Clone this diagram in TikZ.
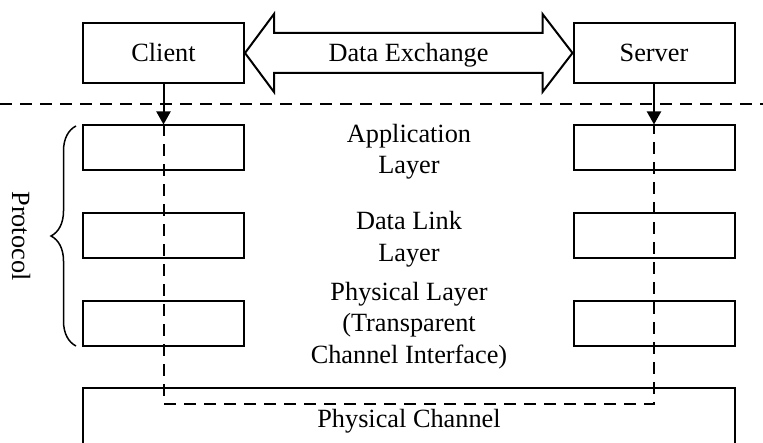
\documentclass[tikz,border=0pt]{standalone}
\usepackage{fontspec}
\setmainfont{Liberation Serif}
\usetikzlibrary{arrows.meta,decorations.pathreplacing,calc}
\begin{document}
\begin{tikzpicture}[x=1pt, y=-1pt, line width=2pt,
  font=\fontsize{26.3}{31.5}\selectfont,
  box/.style={draw, minimum width=161pt, minimum height=45pt, inner sep=0pt},
  endbox/.style={box, minimum height=60pt},
  lbl/.style={align=center, inner sep=0pt},
  dashline/.style={dash pattern=on 12pt off 8pt},
  flow/.style={-{Triangle[length=13pt,width=14pt]}}]

\clip (0,0) rectangle (763,443);

% end points of the exchange
\node[endbox] (client) at (163.5,53) {Client};
\node[endbox] (server) at (654,53) {Server};

% two-headed block arrow between client and server
\draw[line join=miter]
  (client.east) -- ++(29,-39) -- ++(0,19) -- ($(server.west)+(-30,-20)$)
  -- ++(0,-19) -- (server.west) -- ++(-30,39) -- ++(0,-19)
  -- ($(client.east)+(29,20)$) -- ++(0,19) -- cycle;
\node[anchor=base, inner sep=0pt] (dx) at (408.5,62) {Data Exchange};

% separator
\coordinate (sepL) at (0,104);
\coordinate (sepR) at (763,104);
\draw[dashline] (sepL) -- (sepR);

% protocol stacks
\node[box] (c1) at (163.5,148) {};
\node[box] (c2) at (163.5,235.5) {};
\node[box] (c3) at (163.5,323.5) {};
\node[box] (s1) at (654,148) {};
\node[box] (s2) at (654,235.5) {};
\node[box] (s3) at (654,323.5) {};

\node[lbl] (app) at (409,151.5) {Application\\Layer};
\node[lbl] (dll) at (409,239.2) {Data Link\\Layer};
\node[lbl] (phy) at (409,325.3) {Physical Layer\\(Transparent\\Channel Interface)};

% physical channel
\node[draw, minimum width=652pt, minimum height=66pt, inner sep=0pt] (chan) at (409,421) {Physical Channel};

% flows
\draw[flow] (client.south) -- (c1.north);
\draw[flow] (server.south) -- (s1.north);
\coordinate (low) at (0,404);
\draw[dashline] (c1.north) -- (c1.north |- low) -- (s1.north |- low) -- (s1.north);

% protocol brace
\coordinate (brB) at (76,346);
\coordinate (brT) at (76,126);
\draw[line width=1.5pt, decorate, decoration={brace, amplitude=25pt}] (brB) -- (brT);
\node[rotate=-90] (proto) at (21,236) {Protocol};
\end{tikzpicture}
\end{document}
